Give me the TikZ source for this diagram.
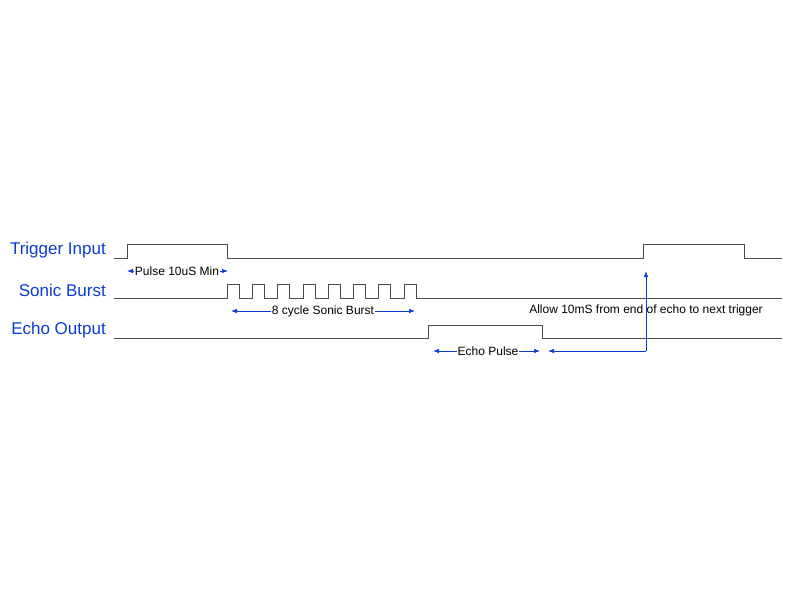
\documentclass[tikz,border=0pt]{standalone}
\usepackage{fontspec}
\setmainfont{Liberation Sans}
\usetikzlibrary{arrows.meta}
\definecolor{lblue}{RGB}{10,60,210}
\begin{document}
\begin{tikzpicture}[x=1pt,y=-1pt,
  sig/.style={draw=black!70,line width=0.8pt},
  lab/.style={text=lblue,font=\fontsize{17}{18}\selectfont,anchor=east,inner sep=0},
  small/.style={font=\fontsize{12}{13}\selectfont,inner sep=0.5pt},
  dim/.style={draw=lblue,line width=0.7pt,-{Latex[length=6pt,width=4.5pt]}}]
\useasboundingbox (0,0) rectangle (800,600);
\node[lab] (l1) at (106,250) {Trigger Input};
\node[lab] (l2) at (106,290) {Sonic Burst};
\node[lab] (l3) at (106,330) {Echo Output};
% trigger
\draw[sig] (114,258) -- (127,258) -- (127,244) -- (227,244) -- (227,258) -- (643,258) -- (643,244) -- (744,244) -- (744,258) -- (782,258);
% sonic burst
\draw[sig] (114,298) -- (227,298)
  \foreach \k in {0,...,7} { -- ({227+25.3*\k},284) -- ({239+25.3*\k},284) -- ({239+25.3*\k},298) -- ({252.3+25.3*\k},298) }
  ;
\draw[sig] (416,298) -- (782,298);
\draw[sig] (404,298) -- (404,284) -- (416,284) -- (416,298);
% echo
\draw[sig] (114,338) -- (428,338) -- (428,325) -- (542,325) -- (542,338) -- (782,338);
% labels
\node[small] (p) at (177,271) {Pulse 10uS Min};
\coordinate (pa) at (127,271); \coordinate (pb) at (228,271);
\draw[dim] (p.west) -- (pa); \draw[dim] (p.east) -- (pb);
\node[small] (s) at (323,311) {8 cycle Sonic Burst};
\coordinate (sa) at (231,311); \coordinate (sb) at (415,311);
\draw[dim] (s.west) -- (sa); \draw[dim] (s.east) -- (sb);
\node[small] (e) at (488,351) {Echo Pulse};
\coordinate (ea) at (433,351); \coordinate (eb) at (540,351);
\draw[dim] (e.west) -- (ea); \draw[dim] (e.east) -- (eb);
\coordinate (c) at (646,351); \coordinate (ct) at (646,271); \coordinate (cl) at (548,351);
\draw[dim] (c) -- (ct);
\draw[dim] (c) -- (cl);
\node[small] (a) at (646,310) {Allow 10mS from end of echo to next trigger};
\end{tikzpicture}
\end{document}
